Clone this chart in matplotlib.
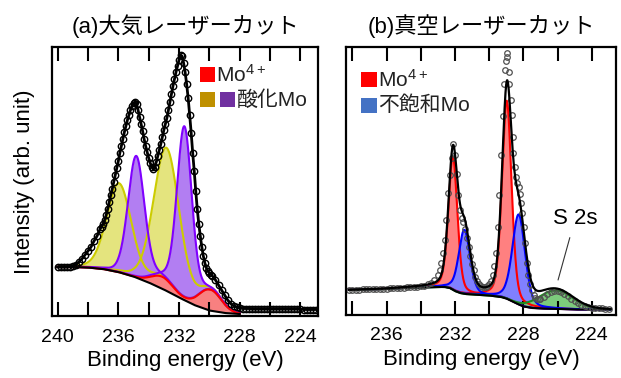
import numpy as np
import matplotlib
matplotlib.use("Agg")
import matplotlib.pyplot as plt
from matplotlib.patches import Rectangle

plt.rcParams['font.family'] = ['Liberation Sans', 'Noto Sans CJK JP']
plt.rcParams['mathtext.default'] = 'regular'

# ---- (a) air laser cut: measured Mo 3d spectrum ----
a_energy = [240.0, 239.8, 239.6, 239.4, 239.2, 239.0, 238.8, 238.6, 238.4, 238.2,
            238.0, 237.8, 237.6, 237.4, 237.2, 237.1,
            237.0, 236.9, 236.8, 236.7, 236.6, 236.5, 236.4, 236.3, 236.2, 236.1,
            236.0, 235.9, 235.8, 235.7, 235.6, 235.5, 235.4, 235.3, 235.2, 235.1,
            235.0, 234.9, 234.8, 234.7, 234.6, 234.5, 234.4, 234.3, 234.2, 234.1,
            234.0, 233.9, 233.8, 233.7, 233.6, 233.5, 233.4, 233.3, 233.2, 233.1,
            233.0, 232.9, 232.8, 232.7, 232.6, 232.5, 232.4, 232.3, 232.2, 232.1,
            232.0, 231.9, 231.8, 231.7, 231.6, 231.5, 231.4, 231.3, 231.2, 231.1,
            231.0, 230.9, 230.8, 230.7, 230.6, 230.5, 230.4, 230.3, 230.2, 230.1,
            230.0, 229.9, 229.8, 229.6, 229.4, 229.2, 229.0, 228.8, 228.6, 228.4,
            228.2, 228.0, 227.8, 227.6, 227.4, 227.2, 227.0, 226.8, 226.6, 226.4,
            226.2, 226.0, 225.8, 225.6, 225.4, 225.2, 225.0, 224.8, 224.6, 224.4,
            224.2, 224.0, 223.8, 223.6, 223.4, 223.2, 223.0]
a_counts = [49, 49, 49, 49, 49.5, 50, 51.5, 54, 57, 61,
            65, 69, 75, 80, 87, 89.5,
            92, 96, 101, 107, 114, 121, 127, 134, 141, 148,
            155, 163, 170, 177, 184, 190, 196, 201, 206, 210,
            213, 214, 212, 206, 199, 192, 185, 177, 170, 164,
            158, 153, 149, 147, 149, 154, 160, 166, 172, 179,
            186, 192, 198, 206, 214, 222, 230, 237, 244, 250,
            256, 261, 260, 253, 244, 232, 218, 201, 183, 163,
            145, 125, 107, 92, 80, 69, 60, 53, 48, 45,
            43, 41.5, 40, 36, 31, 26, 21, 16, 12.5, 10,
            9, 8, 7.5, 7.5, 7.5, 7, 7, 7, 7, 7,
            7, 7, 7, 7, 7, 7, 7, 7, 7, 7,
            7, 7, 6.5, 6.5, 6.5, 6.5, 6.5]

a_bg_energy = [240.0, 239.0, 238.0, 237.0, 236.0, 235.0, 234.0, 233.0, 232.0, 231.0, 230.0, 229.0, 228.0]
a_bg = [49, 49, 48.5, 47, 44, 39.5, 33.5, 26.5, 18.5, 11, 5.5, 3, 2]

# fitted components: center (eV), height, FWHM (eV); lorentz fraction per group
a_mo4_center = [229.95, 233.1]
a_mo4_height = [21, 12]
a_mo4_fwhm = [1.7, 1.7]

a_oxy_center = [235.95, 232.8]      # yellow
a_oxy_height = [89, 132]
a_oxy_fwhm = [1.9, 2.0]
a_oxy_mix = 0.15

a_oxp_center = [234.82, 231.65]     # purple
a_oxp_height = [121, 171]
a_oxp_fwhm = [1.28, 1.15]
a_oxp_mix = 0.15

# ---- (b) vacuum laser cut ----
b_energy = [238.2, 238.0, 237.8, 237.6, 237.4, 237.2, 237.0, 236.8, 236.6, 236.4,
            236.2, 236.0, 235.8, 235.6, 235.4, 235.2, 235.0, 234.8, 234.6, 234.4,
            234.2, 234.0, 233.8,
            233.6, 233.4, 233.2, 233.0, 232.9, 232.8, 232.7, 232.6, 232.5, 232.4,
            232.3, 232.2, 232.1, 232.0, 231.9, 231.8, 231.7, 231.6, 231.5, 231.4,
            231.3, 231.2, 231.1, 231.0, 230.9, 230.8, 230.7, 230.6, 230.5, 230.4,
            230.3, 230.2, 230.1, 230.0, 229.9, 229.8, 229.7, 229.6, 229.5, 229.4,
            229.32, 229.2, 229.13, 229.05, 229.01, 228.97, 228.94, 228.85, 228.82, 228.75,
            228.68, 228.62, 228.58, 228.5, 228.42, 228.35, 228.28, 228.2, 228.12, 228.05,
            227.98, 227.9, 227.8, 227.7, 227.6, 227.5, 227.4, 227.3, 227.2, 227.1,
            227.0, 226.8, 226.6, 226.4, 226.2, 226.0, 225.8, 225.6, 225.4, 225.2,
            225.0, 224.8, 224.6, 224.4, 224.2, 224.0, 223.8, 223.6, 223.4, 223.2,
            223.0]
b_counts = [25, 25, 25, 25, 25.5, 25.5, 25.5, 25.5, 25.5, 26,
            26, 26, 26.5, 26.5, 27, 27, 27, 27.5, 27.5, 28,
            28, 28.5, 29,
            30.5, 32, 35, 40, 45, 52, 62, 75, 95, 122,
            140, 157, 171, 160, 141, 120, 105, 97, 93, 86,
            77, 68, 59, 51, 45, 38, 34, 31, 29, 28,
            27.5, 28, 29, 31, 34, 40, 49, 62, 88, 120,
            160, 199, 231, 245, 254, 258, 262, 243, 231, 215,
            200, 178, 162, 148, 138, 132, 128, 121, 112, 102,
            88, 72, 52, 40, 31, 25, 20, 17, 15.5, 15.5,
            16, 18, 20.5, 22.5, 24, 24, 23, 21, 18.5, 16,
            13.5, 11.5, 10, 8.5, 7.5, 7, 7, 6.5, 6.5, 6,
            6]

b_bg_energy = [238.2, 237.0, 236.0, 235.0, 234.0, 233.0, 232.6, 232.3, 232.0, 231.7,
               231.4, 231.0, 230.0, 229.3, 229.0, 228.7, 228.4, 228.0, 227.5, 227.0,
               226.0, 225.0, 224.0, 222.9]
b_bg = [25, 25.5, 26, 27, 27.5, 28, 28, 27, 24, 22,
        21, 20.5, 19.5, 18, 16.5, 14, 11.5, 8.5, 7, 6.5,
        6, 5.5, 5.5, 5.5]

b_mo4_center = [232.12, 228.97]     # red
b_mo4_height = [133, 198]
b_mo4_fwhm = [0.62, 0.66]

b_uns_center = [231.45, 228.27]     # blue
b_uns_height = [64, 90]
b_uns_fwhm = [0.78, 0.88]
b_peak_mix = 0.3

b_s2s_center = 226.1                # green
b_s2s_height = 18.5
b_s2s_fwhm = 2.4


def peak(x, center, height, fwhm, mix=0.0):
    u = (x - center) / fwhm
    g = np.exp(-4 * np.log(2) * u ** 2)
    l = 1 / (1 + 4 * u ** 2)
    return height * ((1 - mix) * g + mix * l)


def style(ax, xlim, ymax, title):
    ax.set_xticks([240, 236, 232, 228, 224])
    ax.set_xticks([238, 234, 230, 226], minor=True)
    ax.set_xlim(*xlim)
    ax.set_ylim(0, ymax)
    ax.tick_params(axis='x', which='both', direction='in', top=True, bottom=True,
                   length=10, width=1.5, labelsize=14, pad=9)
    ax.set_yticks([])
    for s in ax.spines.values():
        s.set_linewidth(1.6)
    ax.set_xlabel('Binding energy (eV)', fontsize=16, labelpad=3)
    ax.set_title(title, fontsize=16, pad=10)


fig = plt.figure(figsize=(6.21, 3.78), dpi=100)
ax_a = fig.add_axes([0.0837, 0.164, 0.4283, 0.7116])
ax_b = fig.add_axes([0.5572, 0.1667, 0.4348, 0.709])

# ---------- panel (a) ----------
xa = np.linspace(240.0, 228.0, 1000)
bga = np.interp(xa, a_bg_energy[::-1], a_bg[::-1])
red_a = sum(peak(xa, c, h, w) for c, h, w in zip(a_mo4_center, a_mo4_height, a_mo4_fwhm))
base_a = bga + red_a

for c, h, w in zip(a_oxy_center, a_oxy_height, a_oxy_fwhm):
    comp = peak(xa, c, h, w, a_oxy_mix)
    ax_a.fill_between(xa, base_a, base_a + comp, color='#E4E47E', lw=0)
    ax_a.plot(xa, base_a + comp, color='#CCCC00', lw=1.5)
for c, h, w in zip(a_oxp_center, a_oxp_height, a_oxp_fwhm):
    comp = peak(xa, c, h, w, a_oxp_mix)
    ax_a.fill_between(xa, base_a, base_a + comp, color='#B27EF2', lw=0)
    ax_a.plot(xa, base_a + comp, color='#7F00FF', lw=1.5)
ax_a.fill_between(xa, bga, base_a, color='#F88080', lw=0)
ax_a.plot(xa, base_a, color='#FF0000', lw=1.5)
ax_a.plot(xa, bga, color='black', lw=1.5)

ax_a.plot(a_energy, a_counts, '-', color='black', lw=2.0, marker='o', ms=4.6,
          mfc='none', mec='black', mew=1.0)

style(ax_a, (240.37, 222.85), 269, '(a)大気レーザーカット')
ax_a.set_ylabel('Intensity (arb. unit)', fontsize=16, labelpad=12)

# legend (a)
ax_a.add_patch(Rectangle((0.556, 0.870), 0.056, 0.056, transform=ax_a.transAxes,
                         color='#FF0000', lw=0))
ax_a.text(0.618, 0.898, 'Mo$^{4+}$', transform=ax_a.transAxes, fontsize=15,
          va='center', ha='left', color='#222222')
ax_a.add_patch(Rectangle((0.556, 0.777), 0.056, 0.056, transform=ax_a.transAxes,
                         color='#BF9000', lw=0))
ax_a.add_patch(Rectangle((0.632, 0.777), 0.056, 0.056, transform=ax_a.transAxes,
                         color='#7030A0', lw=0))
ax_a.text(0.694, 0.803, '酸化Mo', transform=ax_a.transAxes, fontsize=15,
          va='center', ha='left', color='#222222')

# ---------- panel (b) ----------
xb = np.linspace(238.2, 222.9, 1500)
bgb = np.interp(xb, b_bg_energy[::-1], b_bg[::-1])
red_b = [peak(xb, c, h, w, b_peak_mix) for c, h, w in zip(b_mo4_center, b_mo4_height, b_mo4_fwhm)]
blue_b = [peak(xb, c, h, w, b_peak_mix) for c, h, w in zip(b_uns_center, b_uns_height, b_uns_fwhm)]
green_b = peak(xb, b_s2s_center, b_s2s_height, b_s2s_fwhm)

for comp in red_b:
    ax_b.fill_between(xb, bgb, bgb + comp, color='#FF8080', lw=0)
    ax_b.plot(xb, bgb + comp, color='#FF0000', lw=1.5)
for comp in blue_b:
    ax_b.fill_between(xb, bgb, bgb + comp, color='#8080FF', lw=0)
    ax_b.plot(xb, bgb + comp, color='#0000FF', lw=1.5)
ax_b.fill_between(xb, bgb, bgb + green_b, color='#7CCB7C', lw=0)
ax_b.plot(xb, bgb + green_b, color='#1E8C1E', lw=1.5)
ax_b.plot(xb, bgb, color='black', lw=1.5)

ax_b.plot(b_energy, b_counts, 'o', ms=4.0, mfc='none', mec='#505050', mew=0.9)
fit_b = bgb + sum(red_b) + sum(blue_b) + green_b
ax_b.plot(xb, fit_b, color='black', lw=1.6)

style(ax_b, (238.37, 222.58), 268, '(b)真空レーザーカット')

ax_b.annotate('S 2s', xy=(225.97, 35), xytext=(224.98, 96), fontsize=16,
              ha='center', va='center',
              arrowprops=dict(arrowstyle='-', color='#333333', lw=0.8,
                              shrinkA=4, shrinkB=0))

# legend (b)
ax_b.add_patch(Rectangle((0.0556, 0.851), 0.059, 0.056, transform=ax_b.transAxes,
                         color='#FF0000', lw=0))
ax_b.text(0.12, 0.879, 'Mo$^{4+}$', transform=ax_b.transAxes, fontsize=15,
          va='center', ha='left', color='#222222')
ax_b.add_patch(Rectangle((0.0556, 0.754), 0.059, 0.056, transform=ax_b.transAxes,
                         color='#4472C4', lw=0))
ax_b.text(0.12, 0.782, '不飽和Mo', transform=ax_b.transAxes, fontsize=15,
          va='center', ha='left', color='#222222')

fig.savefig('out.png', dpi=100)
